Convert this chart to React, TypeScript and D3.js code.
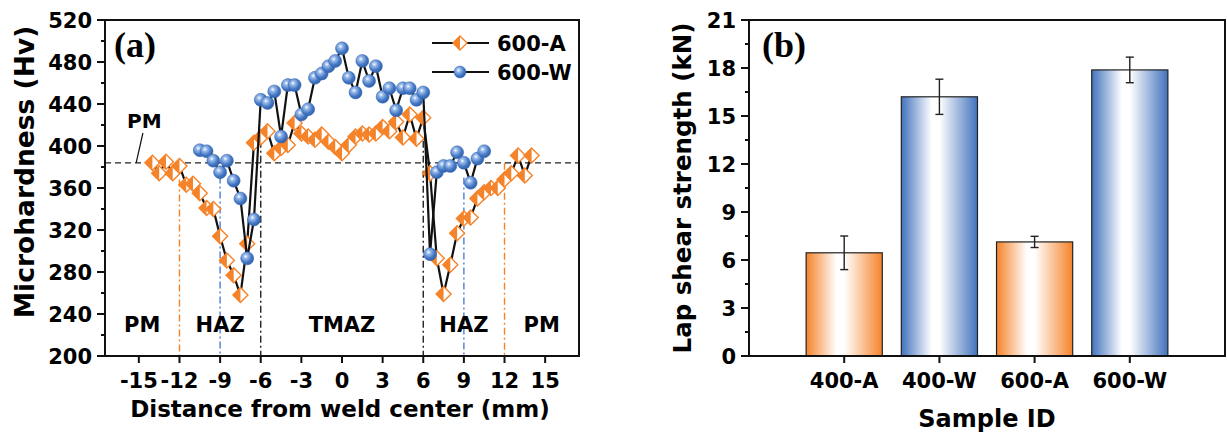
import * as d3 from "d3";
import React from "react";

// (a) microhardness profiles, x in mm from weld center
const distance600A = [
  -14, -13.5, -13, -12.5, -12, -11.5, -11, -10.5, -10, -9.5, -9, -8.5, -8, -7.5, -7, -6.5, -6, -5.5, -5, -4.5, -4,
  -3.5, -3, -2.5, -2, -1.5, -1, -0.5, 0, 0.5, 1, 1.5, 2, 2.5, 3, 3.5, 4, 4.5, 5, 5.5, 6, 6.5, 7, 7.5, 8, 8.5, 9,
  9.5, 10, 10.5, 11, 11.5, 12, 12.5, 13, 13.5, 14,
];
const hardness600A = [
  384, 374, 385, 374, 381, 363, 364, 355, 341, 340, 314, 291, 277, 258, 307, 403, 408, 414, 393, 398, 401,
  422, 412, 409, 406, 411, 404, 399, 393, 401, 409, 412, 411, 412, 418, 414, 423, 408, 430, 407, 427, 374, 293, 259,
  287, 317, 331, 332, 350, 356, 360, 360, 368, 374, 391, 372, 391,
];
const distance600W = [
  -10.5, -10, -9.5, -9, -8.5, -8, -7.5, -7, -6.5, -6, -5.5, -5, -4.5, -4, -3.5, -3, -2.5, -2, -1.5, -1, -0.5, 0,
  0.5, 1, 1.5, 2, 2.5, 3, 3.5, 4, 4.5, 5, 5.5, 6, 6.5, 7, 7.5, 8, 8.5, 9, 9.5, 10, 10.5,
];
const hardness600W = [
  396, 395, 386, 375, 386, 367, 350, 293, 330, 444, 441, 452, 409, 458, 458, 430, 435, 465, 469, 476, 481, 493,
  465, 451, 481, 462, 476, 447, 455, 434, 455, 455, 444, 451, 297, 375, 381, 381, 394, 384, 365, 388, 395,
];
const pmHardness = 384;
const hardnessTicks = [200, 240, 280, 320, 360, 400, 440, 480, 520];
const hardnessMinor = [220, 260, 300, 340, 380, 420, 460, 500];
const distanceTicks = [-15, -12, -9, -6, -3, 0, 3, 6, 9, 12, 15];
const zoneNames = ["PM", "HAZ", "TMAZ", "HAZ", "PM"];
const zoneCenters = [-14.75, -9, 0, 9, 14.75];
const boundaryX = [-12, -9, -6, 6, 9, 12];
const boundaryTop = [368, 371, 405, 405, 370, 384];

// (b) lap shear strength
const sampleIds = ["400-A", "400-W", "600-A", "600-W"];
const strength = [6.45, 16.2, 7.13, 17.88];
const strengthErr = [1.05, 1.1, 0.35, 0.8];
const strengthTicks = [0, 3, 6, 9, 12, 15, 18, 21];
const strengthMinor = [1.5, 4.5, 7.5, 10.5, 13.5, 16.5, 19.5];

const ORANGE = "#f5832a";
const BLUE = "#4477c4";
const FONT = "DejaVu Sans";

export default function App() {
  const xA = d3.scaleLinear().domain([-17.5, 17.5]).range([105, 579]);
  const yA = d3.scaleLinear().domain([200, 520]).range([356, 20]);
  const xB = d3.scaleBand().domain(sampleIds).range([749, 1225]).paddingInner(0.2).paddingOuter(0.6);
  const yB = d3.scaleLinear().domain([0, 21]).range([356, 20]);

  const seriesA = distance600A.map((d, i) => [d, hardness600A[i]]);
  const seriesW = distance600W.map((d, i) => [d, hardness600W[i]]);
  const line = d3.line<number[]>().x(d => xA(d[0])).y(d => yA(d[1]));

  const boundaryColor = (x: number) => (Math.abs(x) === 12 ? ORANGE : Math.abs(x) === 9 ? "#4d7fd6" : "#222");

  const diamond = (x: number, y: number, r: number, key: any) => (
    <g key={key}>
      <path d={`M${x},${y - r}L${x + r},${y}L${x},${y + r}L${x - r},${y}Z`} fill="#fff" stroke={ORANGE} strokeWidth={1.4} />
      <path d={`M${x},${y - r}L${x},${y + r}L${x - r},${y}Z`} fill={ORANGE} />
    </g>
  );
  const ball = (x: number, y: number, r: number, key: any) => (
    <circle key={key} cx={x} cy={y} r={r} fill="url(#ballGrad)" stroke="#3566b0" strokeWidth={0.5} />
  );

  return (
    <svg width={1227} height={437} style={{ position: "absolute", left: 0, top: 0 }} fontFamily={FONT} fontWeight="bold">
      <defs>
        <radialGradient id="ballGrad" cx="0.38" cy="0.35" r="0.7">
          <stop offset="0%" stopColor="#ffffff" />
          <stop offset="22%" stopColor="#9bbcec" />
          <stop offset="65%" stopColor={BLUE} />
          <stop offset="100%" stopColor="#2c5ca6" />
        </radialGradient>
        <linearGradient id="barOrange" x1="0" x2="1" y1="0" y2="0">
          <stop offset="0%" stopColor={ORANGE} />
          <stop offset="40%" stopColor="#ffffff" />
          <stop offset="50%" stopColor="#ffffff" />
          <stop offset="100%" stopColor={ORANGE} />
        </linearGradient>
        <linearGradient id="barBlue" x1="0" x2="1" y1="0" y2="0">
          <stop offset="0%" stopColor="#4273bd" />
          <stop offset="40%" stopColor="#ffffff" />
          <stop offset="50%" stopColor="#ffffff" />
          <stop offset="100%" stopColor="#4273bd" />
        </linearGradient>
      </defs>
      <rect width={1227} height={437} fill="#fff" />

      {/* ---------- (a) ---------- */}
      {/* zone boundaries */}
      {boundaryX.map((b, i) => (
        <line key={i} x1={xA(b)} x2={xA(b)} y1={yA(boundaryTop[i])} y2={356} stroke={boundaryColor(b)}
          strokeWidth={1.4} strokeDasharray="7,3,2,3" />
      ))}
      {/* PM reference */}
      <line x1={105} x2={579} y1={yA(pmHardness)} y2={yA(pmHardness)} stroke="#222" strokeWidth={1.3} strokeDasharray="6,4" />
      <line x1={xA(-14.7)} y1={133} x2={xA(-15.2)} y2={yA(pmHardness)} stroke="#111" strokeWidth={1.2} />
      <text x={xA(-14.6)} y={128} fontSize={20} textAnchor="middle">PM</text>

      {zoneNames.map((z, i) => (
        <text key={i} x={xA(zoneCenters[i])} y={332} fontSize={21} textAnchor="middle">{z}</text>
      ))}

      {/* series */}
      <path d={line(seriesA) || ""} fill="none" stroke="#111" strokeWidth={2.2} />
      {seriesA.map((d, i) => diamond(xA(d[0]), yA(d[1]), 7.5, i))}
      <path d={line(seriesW) || ""} fill="none" stroke="#111" strokeWidth={2.2} />
      {seriesW.map((d, i) => ball(xA(d[0]), yA(d[1]), 6.5, i))}

      {/* frame */}
      <rect x={105} y={20} width={474} height={336} fill="none" stroke="#111" strokeWidth={2} />
      {hardnessTicks.map(t => (
        <g key={t}>
          <line x1={97} x2={105} y1={yA(t)} y2={yA(t)} stroke="#111" strokeWidth={2} />
          <text x={92} y={yA(t)} dy="0.36em" fontSize={21} textAnchor="end">{t}</text>
        </g>
      ))}
      {hardnessMinor.map(t => (
        <line key={t} x1={101} x2={105} y1={yA(t)} y2={yA(t)} stroke="#111" strokeWidth={2} />
      ))}
      {distanceTicks.map(t => (
        <g key={t}>
          <line x1={xA(t)} x2={xA(t)} y1={356} y2={363} stroke="#111" strokeWidth={2} />
          <text x={xA(t)} y={388} fontSize={21} textAnchor="middle">{t}</text>
        </g>
      ))}
      <text x={340} y={417} fontSize={23} textAnchor="middle">Distance from weld center (mm)</text>
      <text transform="translate(34,172) rotate(-90)" fontSize={26.5} textAnchor="middle">Microhardness (Hv)</text>
      <text x={114} y={57} fontSize={36} fontFamily="Liberation Serif">(a)</text>

      {/* legend */}
      <line x1={432} x2={489} y1={43} y2={43} stroke="#111" strokeWidth={2} />
      {diamond(460, 43, 7, "la")}
      <text x={497} y={51} fontSize={21}>600-A</text>
      <line x1={432} x2={489} y1={72} y2={72} stroke="#111" strokeWidth={2} />
      {ball(460, 72, 6, "lw")}
      <text x={497} y={80} fontSize={21}>600-W</text>

      {/* ---------- (b) ---------- */}
      {sampleIds.map((s, i) => {
        const x = xB(s) as number;
        const cx = x + xB.bandwidth() / 2;
        return (
          <g key={s}>
            <rect x={x} y={yB(strength[i])} width={xB.bandwidth()} height={356 - yB(strength[i])}
              fill={s.endsWith("A") ? "url(#barOrange)" : "url(#barBlue)"} stroke="#222" strokeWidth={1.2} />
            <line x1={cx} x2={cx} y1={yB(strength[i] + strengthErr[i])} y2={yB(strength[i] - strengthErr[i])} stroke="#222" strokeWidth={1.4} />
            <line x1={cx - 4} x2={cx + 4} y1={yB(strength[i] + strengthErr[i])} y2={yB(strength[i] + strengthErr[i])} stroke="#222" strokeWidth={1.4} />
            <line x1={cx - 4} x2={cx + 4} y1={yB(strength[i] - strengthErr[i])} y2={yB(strength[i] - strengthErr[i])} stroke="#222" strokeWidth={1.4} />
            <line x1={cx} x2={cx} y1={356} y2={363} stroke="#111" strokeWidth={2} />
            <text x={cx} y={388} fontSize={21} textAnchor="middle">{s}</text>
          </g>
        );
      })}
      <rect x={749} y={20} width={476} height={336} fill="none" stroke="#111" strokeWidth={2} />
      {strengthTicks.map(t => (
        <g key={t}>
          <line x1={741} x2={749} y1={yB(t)} y2={yB(t)} stroke="#111" strokeWidth={2} />
          <text x={736} y={yB(t)} dy="0.36em" fontSize={21} textAnchor="end">{t}</text>
        </g>
      ))}
      {strengthMinor.map(t => (
        <line key={t} x1={745} x2={749} y1={yB(t)} y2={yB(t)} stroke="#111" strokeWidth={2} />
      ))}
      <text x={987} y={427} fontSize={24} textAnchor="middle">Sample ID</text>
      <text transform="translate(691,188) rotate(-90)" fontSize={24.5} textAnchor="middle">Lap shear strength (kN)</text>
      <text x={762} y={57} fontSize={36} fontFamily="Liberation Serif">(b)</text>
    </svg>
  );
}
